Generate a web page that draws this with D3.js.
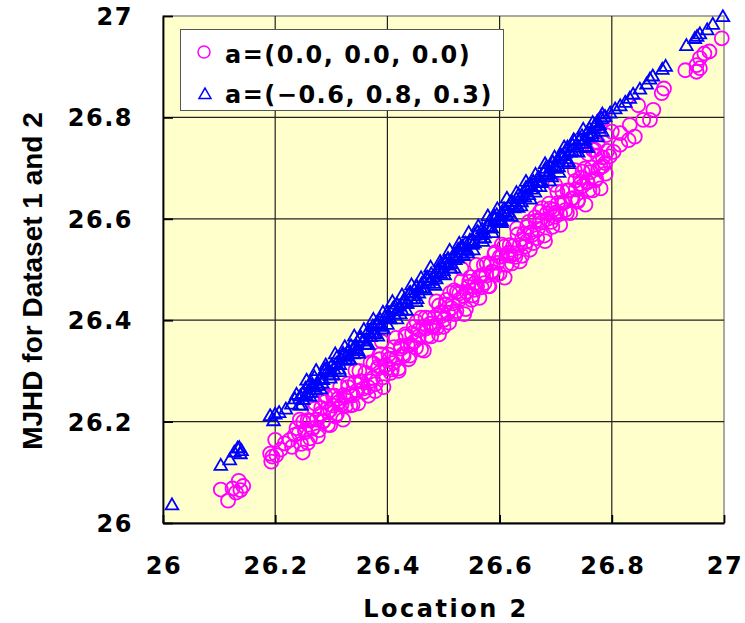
<!DOCTYPE html>
<html>
<head>
<meta charset="utf-8">
<script src="https://cdn.jsdelivr.net/npm/d3@7"></script>
<style>
  body { margin: 0; background: #fff; }
  .tick-label { font-family: "DejaVu Sans", sans-serif; font-weight: bold; font-size: 24px; letter-spacing: 1.5px; fill: #000; }
</style>
</head>
<body>
<script>
// axis ticks
var xTicks = [26, 26.2, 26.4, 26.6, 26.8, 27];
var yTicks = [26, 26.2, 26.4, 26.6, 26.8, 27];
var xTickLabels = ["26", "26.2", "26.4", "26.6", "26.8", "27"];
var yTickLabels = ["26", "26.2", "26.4", "26.6", "26.8", "27"];

var seriesNames = ["a=(0.0, 0.0, 0.0)", "a=(\u22120.6, 0.8, 0.3)"];

// a=(0.0, 0.0, 0.0)  -> magenta circles  [location 2, MJHD]
var circlePoints = [
  [26.103, 26.066], [26.116, 26.044], [26.124, 26.068], [26.135, 26.083], [26.138, 26.065], [26.143, 26.073], [26.13, 26.06],
  [26.191, 26.137], [26.2, 26.164], [26.195, 26.131], [26.193, 26.121], [26.202, 26.134], [26.217, 26.157], [26.226, 26.164],
  [26.235, 26.174], [26.238, 26.187], [26.21, 26.145], [26.23, 26.15],
  [26.242, 26.177], [26.246, 26.156], [26.25, 26.2], [26.254, 26.179], [26.258, 26.158], [26.262, 26.202], [26.266, 26.186],
  [26.27, 26.225], [26.274, 26.204], [26.278, 26.183], [26.282, 26.227], [26.286, 26.201], [26.29, 26.25], [26.294, 26.219],
  [26.298, 26.193], [26.302, 26.232], [26.306, 26.251], [26.31, 26.215], [26.314, 26.239], [26.318, 26.233], [26.322, 26.252],
  [26.326, 26.231], [26.33, 26.275], [26.334, 26.254], [26.338, 26.233], [26.342, 26.277], [26.346, 26.261], [26.35, 26.3],
  [26.354, 26.279], [26.358, 26.258], [26.363, 26.341], [26.366, 26.268], [26.37, 26.317], [26.374, 26.286], [26.378, 26.26],
  [26.382, 26.304], [26.386, 26.323], [26.39, 26.358], [26.392, 26.287], [26.396, 26.311], [26.4, 26.305], [26.404, 26.324],
  [26.408, 26.303], [26.412, 26.347], [26.416, 26.326], [26.42, 26.305], [26.424, 26.349], [26.428, 26.333], [26.432, 26.372],
  [26.436, 26.351], [26.44, 26.33], [26.444, 26.374], [26.448, 26.358], [26.452, 26.397], [26.456, 26.368], [26.46, 26.342],
  [26.464, 26.386], [26.468, 26.405], [26.472, 26.369], [26.476, 26.393], [26.48, 26.387], [26.484, 26.406], [26.488, 26.385],
  [26.492, 26.429], [26.496, 26.408], [26.5, 26.387], [26.504, 26.431], [26.508, 26.415], [26.512, 26.454], [26.516, 26.433],
  [26.52, 26.412], [26.524, 26.456], [26.528, 26.44], [26.532, 26.502], [26.536, 26.448], [26.54, 26.422], [26.544, 26.466],
  [26.548, 26.485], [26.552, 26.449], [26.556, 26.473], [26.56, 26.467], [26.564, 26.486], [26.568, 26.465], [26.572, 26.509],
  [26.576, 26.488], [26.58, 26.467], [26.584, 26.511], [26.588, 26.495], [26.592, 26.534], [26.596, 26.513], [26.6, 26.492],
  [26.604, 26.526], [26.608, 26.545], [26.612, 26.509], [26.616, 26.533], [26.62, 26.527], [26.624, 26.546], [26.628, 26.525],
  [26.632, 26.569], [26.636, 26.548], [26.64, 26.527], [26.644, 26.571], [26.648, 26.555], [26.652, 26.594], [26.656, 26.573],
  [26.66, 26.552], [26.664, 26.596], [26.668, 26.58], [26.672, 26.614], [26.676, 26.593], [26.68, 26.567], [26.684, 26.611],
  [26.688, 26.63], [26.692, 26.594], [26.696, 26.618], [26.699, 26.667], [26.7, 26.612], [26.704, 26.631], [26.708, 26.61],
  [26.712, 26.654], [26.716, 26.633], [26.72, 26.612], [26.724, 26.656], [26.728, 26.64], [26.734, 26.696], [26.736, 26.658],
  [26.74, 26.637], [26.744, 26.681], [26.748, 26.665], [26.752, 26.699], [26.756, 26.673], [26.76, 26.657], [26.764, 26.701],
  [26.766, 26.736], [26.77, 26.736], [26.772, 26.679], [26.776, 26.698], [26.785, 26.798], [26.78, 26.702], [26.784, 26.721],
  [26.788, 26.71], [26.792, 26.734], [26.796, 26.723], [26.79, 26.765], [26.8, 26.772], [26.775, 26.75], [26.758, 26.728],
  [26.244, 26.204], [26.249, 26.139], [26.253, 26.183], [26.258, 26.203], [26.262, 26.167], [26.267, 26.187], [26.271, 26.236],
  [26.276, 26.171], [26.28, 26.215], [26.285, 26.2], [26.289, 26.239], [26.294, 26.194], [26.298, 26.223], [26.303, 26.251],
  [26.307, 26.21], [26.312, 26.245], [26.316, 26.269], [26.321, 26.204], [26.325, 26.248], [26.33, 26.268], [26.334, 26.232],
  [26.339, 26.252], [26.343, 26.301], [26.348, 26.236], [26.352, 26.28], [26.357, 26.265], [26.361, 26.296], [26.366, 26.251],
  [26.37, 26.28], [26.375, 26.315], [26.379, 26.274], [26.384, 26.309], [26.388, 26.333], [26.393, 26.268], [26.397, 26.312],
  [26.402, 26.332], [26.406, 26.296], [26.411, 26.316], [26.415, 26.365], [26.42, 26.3], [26.424, 26.344], [26.429, 26.329],
  [26.433, 26.368], [26.438, 26.323], [26.442, 26.352], [26.447, 26.387], [26.451, 26.346], [26.456, 26.381], [26.46, 26.405],
  [26.465, 26.34], [26.469, 26.384], [26.474, 26.404], [26.478, 26.368], [26.483, 26.388], [26.487, 26.437], [26.492, 26.372],
  [26.496, 26.416], [26.501, 26.401], [26.505, 26.44], [26.51, 26.395], [26.514, 26.424], [26.519, 26.459], [26.523, 26.418],
  [26.528, 26.453], [26.532, 26.477], [26.537, 26.412], [26.541, 26.456], [26.546, 26.476], [26.55, 26.44], [26.555, 26.46],
  [26.559, 26.509], [26.564, 26.444], [26.568, 26.488], [26.573, 26.473], [26.577, 26.512], [26.582, 26.467], [26.586, 26.496],
  [26.591, 26.531], [26.595, 26.49], [26.6, 26.525], [26.604, 26.549], [26.609, 26.484], [26.613, 26.528], [26.618, 26.548],
  [26.622, 26.512], [26.627, 26.532], [26.631, 26.581], [26.636, 26.516], [26.64, 26.56], [26.645, 26.545], [26.649, 26.584],
  [26.654, 26.539], [26.658, 26.568], [26.663, 26.603], [26.667, 26.562], [26.672, 26.597], [26.676, 26.621], [26.681, 26.556],
  [26.685, 26.6], [26.69, 26.62], [26.694, 26.584], [26.699, 26.604], [26.703, 26.653], [26.708, 26.588], [26.712, 26.632],
  [26.717, 26.617], [26.721, 26.656], [26.726, 26.611], [26.73, 26.64], [26.735, 26.675], [26.739, 26.634], [26.744, 26.669],
  [26.748, 26.693], [26.753, 26.628], [26.757, 26.672], [26.762, 26.692], [26.766, 26.656], [26.771, 26.676], [26.775, 26.725],
  [26.78, 26.66], [26.784, 26.704], [26.789, 26.689],
  [26.803, 26.732], [26.815, 26.746], [26.815, 26.769], [26.83, 26.755], [26.841, 26.762], [26.832, 26.785], [26.847, 26.824],
  [26.856, 26.795], [26.868, 26.795], [26.874, 26.815], [26.889, 26.848], [26.893, 26.857], [26.931, 26.893], [26.951, 26.89],
  [26.957, 26.897], [26.951, 26.903], [26.957, 26.917], [26.965, 26.926], [26.974, 26.93], [26.996, 26.956]
];

// a=(-0.6, 0.8, 0.3)  -> blue triangles
var trianglePoints = [
  [26.016, 26.034],
  [26.103, 26.112], [26.119, 26.123], [26.127, 26.138], [26.133, 26.146], [26.136, 26.147], [26.14, 26.141], [26.138, 26.135],
  [26.191, 26.21], [26.197, 26.2], [26.2, 26.213], [26.207, 26.216], [26.219, 26.223], [26.229, 26.233], [26.235, 26.243], [26.238, 26.252],
  [26.245, 26.249], [26.25, 26.242], [26.254, 26.264], [26.258, 26.256], [26.262, 26.248], [26.266, 26.272], [26.27, 26.286],
  [26.275, 26.27], [26.28, 26.283], [26.284, 26.274], [26.288, 26.3], [26.292, 26.296], [26.297, 26.29], [26.301, 26.31],
  [26.305, 26.302], [26.31, 26.325], [26.314, 26.302], [26.318, 26.321], [26.322, 26.33], [26.327, 26.319], [26.331, 26.338],
  [26.335, 26.348], [26.34, 26.332], [26.344, 26.349], [26.348, 26.338], [26.352, 26.366], [26.357, 26.358], [26.361, 26.35],
  [26.365, 26.376], [26.37, 26.366], [26.374, 26.387], [26.378, 26.372], [26.383, 26.39], [26.387, 26.4], [26.391, 26.386],
  [26.396, 26.405], [26.4, 26.414], [26.404, 26.404], [26.409, 26.42], [26.413, 26.41], [26.417, 26.43], [26.422, 26.426],
  [26.426, 26.418], [26.43, 26.44], [26.435, 26.434], [26.439, 26.452], [26.443, 26.44], [26.448, 26.458], [26.452, 26.466],
  [26.456, 26.452], [26.461, 26.47], [26.465, 26.462], [26.469, 26.482], [26.474, 26.472], [26.478, 26.49], [26.482, 26.484],
  [26.487, 26.48], [26.491, 26.5], [26.495, 26.508], [26.5, 26.496], [26.504, 26.512], [26.508, 26.52], [26.513, 26.51],
  [26.517, 26.526], [26.521, 26.518], [26.526, 26.538], [26.53, 26.53], [26.534, 26.544], [26.539, 26.55], [26.543, 26.536],
  [26.547, 26.556], [26.552, 26.548], [26.556, 26.566], [26.56, 26.572], [26.565, 26.56], [26.569, 26.578], [26.573, 26.57],
  [26.578, 26.584], [26.582, 26.594], [26.586, 26.58], [26.591, 26.598], [26.595, 26.606], [26.6, 26.592], [26.604, 26.61],
  [26.608, 26.618], [26.613, 26.606], [26.617, 26.624], [26.621, 26.632], [26.626, 26.62], [26.63, 26.638], [26.634, 26.646],
  [26.639, 26.632], [26.643, 26.652], [26.647, 26.66], [26.652, 26.646], [26.656, 26.664], [26.66, 26.672], [26.665, 26.662],
  [26.669, 26.68], [26.673, 26.67], [26.678, 26.69], [26.682, 26.698], [26.686, 26.684], [26.691, 26.7], [26.695, 26.71],
  [26.7, 26.698], [26.704, 26.716], [26.708, 26.724], [26.713, 26.71], [26.717, 26.728], [26.721, 26.74], [26.726, 26.73],
  [26.73, 26.744], [26.734, 26.752], [26.739, 26.74], [26.743, 26.756], [26.747, 26.762], [26.752, 26.754], [26.756, 26.768],
  [26.76, 26.776], [26.765, 26.766], [26.769, 26.782], [26.774, 26.79], [26.778, 26.784], [26.782, 26.796],
  [26.247, 26.231], [26.256, 26.28], [26.264, 26.256], [26.273, 26.299], [26.281, 26.263], [26.29, 26.31], [26.298, 26.284],
  [26.307, 26.332], [26.315, 26.297], [26.324, 26.346], [26.332, 26.322], [26.341, 26.367], [26.349, 26.333], [26.358, 26.38],
  [26.366, 26.35], [26.375, 26.4], [26.383, 26.367], [26.392, 26.414], [26.4, 26.39], [26.409, 26.435], [26.417, 26.401],
  [26.426, 26.448], [26.434, 26.418], [26.443, 26.468], [26.451, 26.435], [26.46, 26.482], [26.468, 26.458], [26.477, 26.503],
  [26.485, 26.467], [26.494, 26.514], [26.502, 26.488], [26.511, 26.536], [26.519, 26.501], [26.528, 26.55], [26.536, 26.526],
  [26.545, 26.571], [26.553, 26.537], [26.562, 26.584], [26.57, 26.554], [26.579, 26.604], [26.587, 26.571], [26.596, 26.618],
  [26.604, 26.594], [26.613, 26.639], [26.621, 26.603], [26.63, 26.65], [26.638, 26.624], [26.647, 26.672], [26.655, 26.637],
  [26.664, 26.686], [26.672, 26.662], [26.681, 26.707], [26.689, 26.673], [26.698, 26.72], [26.706, 26.69], [26.715, 26.74],
  [26.723, 26.707], [26.732, 26.754], [26.74, 26.73], [26.749, 26.775], [26.757, 26.739], [26.766, 26.788], [26.774, 26.76],
  [26.783, 26.805],
  [26.243, 26.231], [26.249, 26.253], [26.255, 26.251], [26.261, 26.273], [26.267, 26.267], [26.273, 26.261], [26.279, 26.283],
  [26.285, 26.281], [26.291, 26.303], [26.297, 26.297], [26.303, 26.291], [26.309, 26.313], [26.315, 26.311], [26.321, 26.333],
  [26.327, 26.327], [26.333, 26.321], [26.339, 26.343], [26.345, 26.341], [26.351, 26.363], [26.357, 26.357], [26.363, 26.351],
  [26.369, 26.373], [26.375, 26.371], [26.381, 26.393], [26.387, 26.387], [26.393, 26.381], [26.399, 26.403], [26.405, 26.401],
  [26.411, 26.423], [26.417, 26.417], [26.423, 26.411], [26.429, 26.433], [26.435, 26.431], [26.441, 26.453], [26.447, 26.447],
  [26.453, 26.441], [26.459, 26.463], [26.465, 26.461], [26.471, 26.483], [26.477, 26.477], [26.483, 26.471], [26.489, 26.493],
  [26.495, 26.491], [26.501, 26.513], [26.507, 26.507], [26.513, 26.501], [26.519, 26.523], [26.525, 26.521], [26.531, 26.543],
  [26.537, 26.537], [26.543, 26.531], [26.549, 26.553], [26.555, 26.551], [26.561, 26.573], [26.567, 26.567], [26.573, 26.561],
  [26.579, 26.583], [26.585, 26.581], [26.591, 26.603], [26.597, 26.597], [26.603, 26.591], [26.609, 26.613], [26.615, 26.611],
  [26.621, 26.633], [26.627, 26.627], [26.633, 26.621], [26.639, 26.643], [26.645, 26.641], [26.651, 26.663], [26.657, 26.657],
  [26.663, 26.651], [26.669, 26.673], [26.675, 26.671], [26.681, 26.693], [26.687, 26.687], [26.693, 26.681], [26.699, 26.703],
  [26.705, 26.701], [26.711, 26.723], [26.717, 26.717], [26.723, 26.711], [26.729, 26.733], [26.735, 26.731], [26.741, 26.753],
  [26.747, 26.747], [26.753, 26.741], [26.759, 26.763], [26.765, 26.761], [26.771, 26.783], [26.777, 26.777], [26.783, 26.771],
  [26.788, 26.8], [26.797, 26.807], [26.806, 26.815], [26.815, 26.821], [26.824, 26.828], [26.832, 26.836], [26.838, 26.844],
  [26.85, 26.854], [26.862, 26.864], [26.868, 26.874], [26.873, 26.88], [26.89, 26.893], [26.896, 26.899], [26.933, 26.94],
  [26.948, 26.954], [26.952, 26.958], [26.957, 26.963], [26.97, 26.971], [26.98, 26.982], [26.998, 26.997]
];

var width = 745,
    height = 623;

var plot = {left: 163, top: 16, right: 724, bottom: 523};

var svg = d3.select("body").append("svg")
    .attr("width", width)
    .attr("height", height);

var x = d3.scaleLinear().domain([26, 27]).range([plot.left, plot.right]);
var y = d3.scaleLinear().domain([26, 27]).range([plot.bottom, plot.top]);

// plot area background
svg.append("rect")
    .attr("x", plot.left)
    .attr("y", plot.top)
    .attr("width", plot.right - plot.left)
    .attr("height", plot.bottom - plot.top)
    .attr("fill", "#ffffcc")
    .attr("stroke", "#8c8c8c")
    .attr("stroke-width", 1.5);

// gridlines
svg.append("g")
    .selectAll("line")
    .data(xTicks.slice(1, -1))
    .enter().append("line")
    .attr("x1", function(d) { return x(d); })
    .attr("x2", function(d) { return x(d); })
    .attr("y1", plot.top)
    .attr("y2", plot.bottom)
    .attr("stroke", "#222")
    .attr("stroke-width", 1.2);

svg.append("g")
    .selectAll("line")
    .data(yTicks.slice(1, -1))
    .enter().append("line")
    .attr("x1", plot.left)
    .attr("x2", plot.right)
    .attr("y1", function(d) { return y(d); })
    .attr("y2", function(d) { return y(d); })
    .attr("stroke", "#222")
    .attr("stroke-width", 1.2);

// axes (inside ticks, labels drawn separately)
var xAxis = svg.append("g")
    .attr("transform", "translate(0," + plot.bottom + ")")
    .call(d3.axisBottom(x).tickValues(xTicks).tickSizeInner(-8).tickSizeOuter(0).tickFormat(""));
var yAxis = svg.append("g")
    .attr("transform", "translate(" + plot.left + ",0)")
    .call(d3.axisLeft(y).tickValues(yTicks).tickSizeInner(-10).tickSizeOuter(0).tickFormat(""));
[xAxis, yAxis].forEach(function(a) {
    a.select(".domain").attr("stroke", "#000").attr("stroke-width", 1.8);
    a.selectAll(".tick line").attr("stroke", "#000").attr("stroke-width", 1.8);
});

// tick labels
svg.append("g")
    .selectAll("text")
    .data(xTicks)
    .enter().append("text")
    .attr("class", "tick-label")
    .attr("x", function(d) { return x(d) + 1; })
    .attr("y", 574)
    .attr("text-anchor", "middle")
    .text(function(d, i) { return xTickLabels[i]; });

svg.append("g")
    .selectAll("text")
    .data(yTicks)
    .enter().append("text")
    .attr("class", "tick-label")
    .attr("x", 133)
    .attr("y", function(d) { return y(d) + 9; })
    .attr("text-anchor", "end")
    .text(function(d, i) { return yTickLabels[i]; });

// axis titles
svg.append("text")
    .attr("class", "tick-label")
    .attr("x", 446)
    .attr("y", 617)
    .attr("text-anchor", "middle")
    .style("letter-spacing", "2.5px")
    .text("Location 2");

svg.append("text")
    .attr("transform", "translate(42,281) rotate(-90)")
    .attr("text-anchor", "middle")
    .style("font-family", "'Liberation Sans', Arial, sans-serif")
    .style("font-weight", "bold")
    .style("font-size", "28px")
    .text("MJHD for Dataset 1 and 2");

// points
var tri = d3.symbol().type(d3.symbolTriangle).size(70);

svg.append("g")
    .selectAll("circle")
    .data(circlePoints)
    .enter().append("circle")
    .attr("cx", function(d) { return x(d[0]); })
    .attr("cy", function(d) { return y(d[1]); })
    .attr("r", 7)
    .attr("fill", "none")
    .attr("stroke", "#ff00ff")
    .attr("stroke-width", 1.8);

svg.append("g")
    .selectAll("path")
    .data(trianglePoints)
    .enter().append("path")
    .attr("d", tri)
    .attr("transform", function(d) { return "translate(" + x(d[0]) + "," + y(d[1]) + ")"; })
    .attr("fill", "none")
    .attr("stroke", "#0000ff")
    .attr("stroke-width", 1.8);

// legend
var legend = svg.append("g");
legend.append("rect")
    .attr("x", 180.5)
    .attr("y", 29.5)
    .attr("width", 323)
    .attr("height", 81)
    .attr("fill", "#fff")
    .attr("stroke", "#555")
    .attr("stroke-width", 1);

legend.append("circle")
    .attr("cx", 204)
    .attr("cy", 52)
    .attr("r", 6)
    .attr("fill", "none")
    .attr("stroke", "#ff00ff")
    .attr("stroke-width", 1.5);

legend.append("path")
    .attr("d", d3.symbol().type(d3.symbolTriangle).size(62))
    .attr("transform", "translate(205,95)")
    .attr("fill", "none")
    .attr("stroke", "#0000ff")
    .attr("stroke-width", 1.5);

legend.selectAll("text.legend")
    .data(seriesNames)
    .enter().append("text")
    .attr("class", "tick-label legend")
    .attr("x", 225)
    .attr("y", function(d, i) { return 63 + i * 40; })
    .text(function(d) { return d; });
</script>
</body>
</html>
